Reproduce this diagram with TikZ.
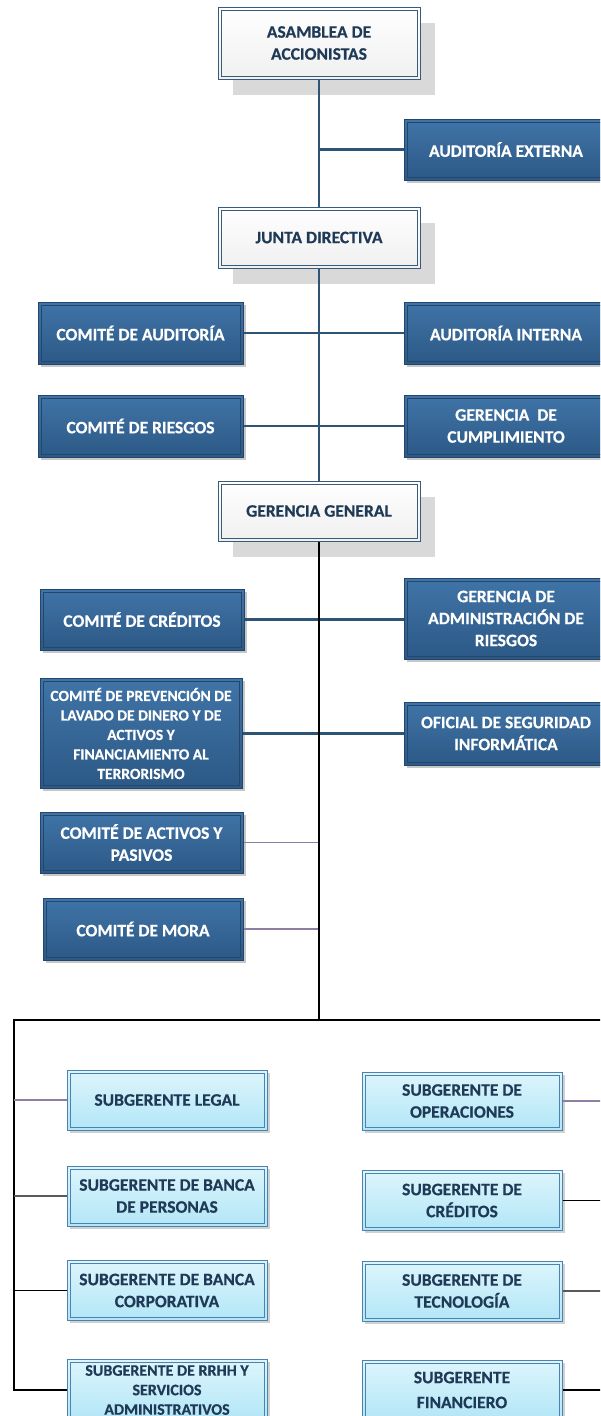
\documentclass[tikz,border=0pt]{standalone}
\usepackage{fontspec}
\setmainfont{Carlito}[BoldFeatures={FakeBold=0.5}]
\usetikzlibrary{shadows}
\definecolor{navytext}{HTML}{1F3A56}
\definecolor{wbord}{HTML}{3A5A7A}
\definecolor{bbord}{HTML}{23476C}
\definecolor{btop}{HTML}{4074A7}
\definecolor{bbot}{HTML}{2C5986}
\definecolor{lbord}{HTML}{4C82AE}
\definecolor{ltop}{HTML}{DDF5FC}
\definecolor{lbot}{HTML}{B2E6F7}
\definecolor{shgray}{HTML}{D9D9D9}
\definecolor{connblue}{HTML}{2E5475}
\definecolor{connpurp}{HTML}{8C7FA3}
\tikzset{
  innerframe/.style={path picture={\draw[#1, line width=0.8pt]
     ([shift={(3pt,-3pt)}]path picture bounding box.north west) rectangle
     ([shift={(-3pt,3pt)}]path picture bounding box.south east);}},
  mainfont/.style={font=\fontsize{17.5}{22}\selectfont\bfseries},
  wbox/.style={draw=wbord, line width=1pt, shading=axis, top color=white, bottom color=black!6,
     text=navytext, mainfont, align=center, inner sep=0pt,
     minimum width=202pt, drop shadow={shadow xshift=15pt, shadow yshift=-16pt, fill=shgray, opacity=1},
     innerframe=wbord},
  bbox/.style={draw=bbord, line width=1pt, shading=axis, top color=btop, bottom color=bbot,
     text=white, mainfont, align=center, inner sep=0pt,
     drop shadow={shadow xshift=2.5pt, shadow yshift=-2.5pt, fill=black!22, opacity=1},
     innerframe=bbord},
  lbox/.style={draw=lbord, line width=1pt, shading=axis, top color=ltop, bottom color=lbot,
     text=navytext, mainfont, align=center, inner sep=0pt,
     minimum width=200pt, minimum height=60pt,
     drop shadow={shadow xshift=2.5pt, shadow yshift=-2.5pt, fill=black!18, opacity=1},
     innerframe=lbord},
  cblue/.style={draw=connblue, line width=2.2pt},
  cblack/.style={draw=black, line width=2.2pt},
  cframe/.style={draw=black, line width=1.4pt},
  cpurp/.style={draw=connpurp, line width=1.1pt},
  cgray/.style={draw=black!65, line width=1.3pt},
}
\begin{document}
\begin{tikzpicture}[x=1pt,y=-1pt]
\useasboundingbox (0,0) rectangle (600,1416);
\clip (0,0) rectangle (600,1416);
% top level
\node[wbox, minimum height=72pt] (asam) at (319,43) {ASAMBLEA DE\\ACCIONISTAS};
\node[bbox, minimum width=204pt, minimum height=61pt] (ae) at (506,149.5) {AUDITORÍA EXTERNA};
\node[wbox, minimum height=61pt] (junta) at (319,237.5) {JUNTA DIRECTIVA};
\node[bbox, minimum width=205pt, minimum height=62pt] (cau) at (140.5,333) {COMITÉ DE AUDITORÍA};
\node[bbox, minimum width=204pt, minimum height=62pt] (ai) at (506,333) {AUDITORÍA INTERNA};
\node[bbox, minimum width=205pt, minimum height=62pt] (cri) at (140.5,426) {COMITÉ DE RIESGOS};
\node[bbox, minimum width=204pt, minimum height=62pt] (gc) at (506,426) {GERENCIA\ \ DE\\CUMPLIMIENTO};
\node[wbox, minimum height=60pt] (gg) at (319,511) {GERENCIA GENERAL};
\node[bbox, minimum width=204pt, minimum height=61pt] (ccr) at (142,619.5) {COMITÉ DE CRÉDITOS};
\node[bbox, minimum width=204pt, minimum height=81pt] (gar) at (506,618.5) {GERENCIA DE\\ADMINISTRACIÓN DE\\RIESGOS};
\node[bbox, minimum width=202pt, minimum height=110pt, font=\fontsize{15.5}{19.5}\selectfont\bfseries] (cpl) at (141,733.5)
  {COMITÉ DE PREVENCIÓN DE\\LAVADO DE DINERO Y DE\\ACTIVOS Y\\FINANCIAMIENTO AL\\TERRORISMO};
\node[bbox, minimum width=204pt, minimum height=63pt] (ofi) at (506,733.5) {OFICIAL DE SEGURIDAD\\INFORMÁTICA};
\node[bbox, minimum width=203pt, minimum height=61pt] (cap) at (141.5,842.5) {COMITÉ DE ACTIVOS Y\\PASIVOS};
\node[bbox, minimum width=200pt, minimum height=62pt] (cmo) at (143,929) {COMITÉ DE MORA};
% subgerencias
\node[lbox] (leg) at (167,1100) {SUBGERENTE LEGAL};
\node[lbox, minimum height=58pt] (ope) at (462,1101) {SUBGERENTE DE\\OPERACIONES};
\node[lbox] (per) at (167,1196) {SUBGERENTE DE BANCA\\DE PERSONAS};
\node[lbox] (cre) at (462,1200.5) {SUBGERENTE DE\\CRÉDITOS};
\node[lbox] (cor) at (167,1290.5) {SUBGERENTE DE BANCA\\CORPORATIVA};
\node[lbox] (tec) at (462,1291) {SUBGERENTE DE\\TECNOLOGÍA};
\node[lbox, minimum height=62pt, font=\fontsize{16}{19.5}\selectfont\bfseries] (rrh) at (167,1390) {SUBGERENTE DE RRHH Y\\SERVICIOS\\ADMINISTRATIVOS};
\node[lbox, font=\fontsize{17.5}{25}\selectfont\bfseries] (fin) at (462,1390) {SUBGERENTE\\FINANCIERO};
% connectors top
\draw[cblue] (asam.south) -- (junta.north);
\draw[cblue] (ae.west) -- (ae.west -| asam.south);
\draw[cblue] (junta.south) -- (gg.north);
\draw[cblue] (cau.east) -- (ai.west);
\draw[cblue] (cri.east) -- (gc.west);
\draw[cblue] (ccr.east) -- (gar.west |- ccr.east);
\draw[cblue] (cpl.east) -- (ofi.west);
\draw[cpurp] (cap.east) -- (cap.east -| gg.south);
\draw[cpurp] (cmo.east) -- (cmo.east -| gg.south);
% trunk and frame
\coordinate (tl) at (14,1020);
\coordinate (tr) at (603,1020);
\draw[cblack] (gg.south) -- (gg.south |- tl);
\draw[cframe] (tr) -- (tl) -- (tl |- rrh.west) -- (rrh.west);
\draw[cframe] (tr) -- (tr |- fin.east) -- (fin.east);
\draw[cpurp] (leg.west) -- (leg.west -| tl);
\draw[cgray] (per.west) -- (per.west -| tl);
\draw[cframe] (cor.west) -- (cor.west -| tl);
\draw[cpurp] (ope.east) -- (ope.east -| tr);
\draw[cframe] (cre.east) -- (cre.east -| tr);
\draw[cgray] (tec.east) -- (tec.east -| tr);
\end{tikzpicture}
\end{document}
